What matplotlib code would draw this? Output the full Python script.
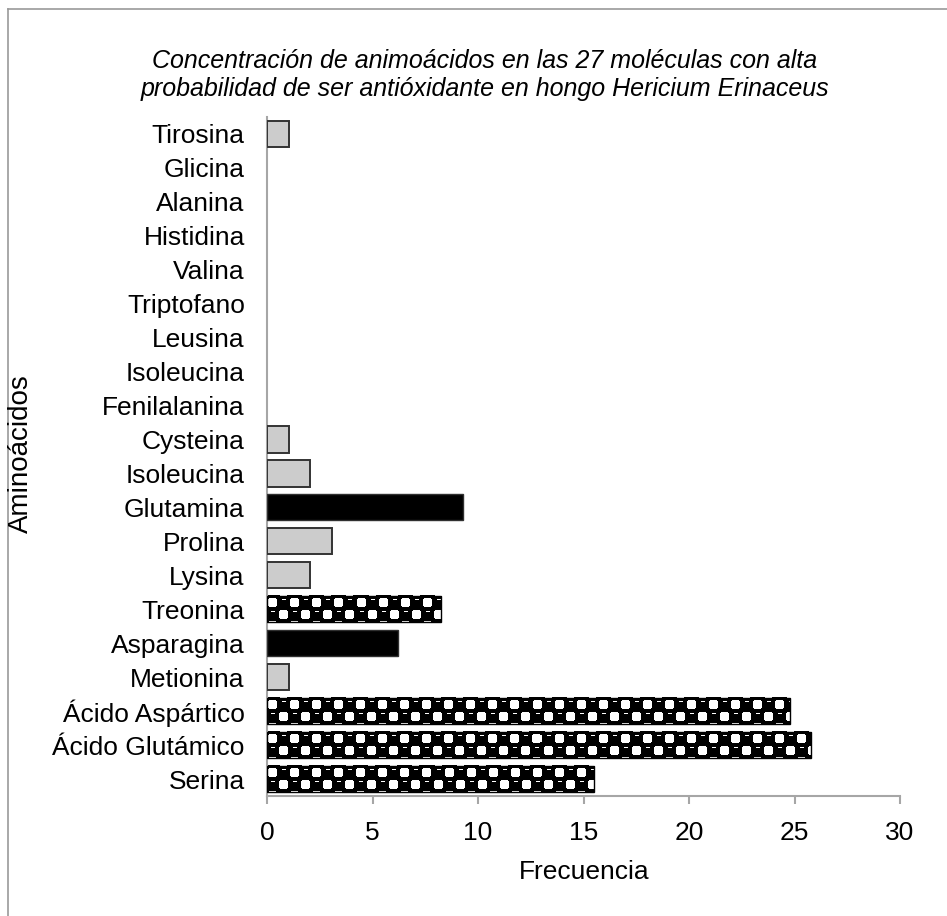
import numpy as np
import matplotlib
matplotlib.use("Agg")
import matplotlib.pyplot as plt
from matplotlib.lines import Line2D

plt.rcParams["font.family"] = ["Liberation Sans", "DejaVu Sans"]

# bottom to top, as barh draws them
categories = ["Serina", "Ácido Glutámico", "Ácido Aspártico", "Metionina",
              "Asparagina", "Treonina", "Lysina", "Prolina", "Glutamina",
              "Isoleucina", "Cysteina", "Fenilalanina", "Isoleucina",
              "Leusina", "Triptofano", "Valina", "Histidina", "Alanina",
              "Glicina", "Tirosina"]
frecuencia = [15.5, 25.8, 24.8, 1.05, 6.2, 8.25, 2.05, 3.1, 9.3, 2.05,
              1.05, 0, 0, 0, 0, 0, 0, 0, 0, 1.05]
relleno = ["patron", "patron", "patron", "gris", "negro", "patron", "gris",
           "gris", "negro", "gris", "gris", "gris", "gris", "gris", "gris",
           "gris", "gris", "gris", "gris", "gris"]

W, H = 947, 916
BAR_H = 0.77


def sphere_pattern(w, h):
    # black balls on a checkerboard, with a light dash on every ball,
    # similar to the Excel "sphere" fill
    cell = 11
    y0 = -9  # shift so a thin partial row shows at top and bottom
    yy, xx = np.mgrid[0:h, 0:w]
    img = np.zeros((h, w))
    for row in range(-1, h // cell + 2):
        top = y0 + row * cell
        for col in range(-1, w // cell + 2):
            left = col * cell
            if (col + row) % 2:
                # white cell, corners eaten by the neighbouring balls
                cx, cy = left + 5, top + 5
                sq = (abs(xx - cx) <= 4) & (abs(yy - cy) <= 4)
                corner = (abs(xx - cx) + abs(yy - cy)) >= 8
                img[sq & ~corner] = 1.0
            else:
                # ball highlight
                r = top + 2
                c0, c1 = max(left + 4, 0), min(left + 8, w)
                if 0 <= r < h and c0 < c1:
                    img[r, c0:c1] = 1.0
    return img


fig = plt.figure(figsize=(W / 100, H / 100), dpi=100)
ax = fig.add_axes([267 / W, 1 - 796 / H, (900 - 267) / W, (796 - 117) / H])

pos = np.arange(len(categories))
px_per_unit = (900 - 267) / 30.0
bar_px = BAR_H * (796 - 117) / len(categories)

for y, v, r in zip(pos, frecuencia, relleno):
    if v <= 0:
        continue
    if r == "gris":
        ax.barh(y, v, height=BAR_H, color="#cccccc", edgecolor="#333333",
                linewidth=1.4, zorder=3)
    elif r == "negro":
        ax.barh(y, v, height=BAR_H, color="black", edgecolor="#303030",
                linewidth=1.0, zorder=3)
    else:
        tex = sphere_pattern(int(round(v * px_per_unit)), int(round(bar_px)))
        ax.imshow(tex, cmap="gray", vmin=0, vmax=1, interpolation="nearest",
                  extent=(0, v, y - BAR_H / 2, y + BAR_H / 2), aspect="auto",
                  zorder=2)
        ax.barh(y, v, height=BAR_H, color="none", edgecolor="black",
                linewidth=1.0, zorder=3)

ax.set_xlim(0, 30)
ax.set_ylim(-0.5, len(categories) - 0.5)

ax.set_yticks(pos)
ax.set_yticklabels(categories, fontsize=19)
ax.set_xticks(range(0, 31, 5))
ax.tick_params(axis="x", labelsize=19, length=6, width=1.5, color="#a6a6a6",
               pad=12, direction="out")
ax.tick_params(axis="y", length=0, pad=16)

for side in ["top", "right"]:
    ax.spines[side].set_visible(False)
for side in ["left", "bottom"]:
    ax.spines[side].set_color("#a6a6a6")
    ax.spines[side].set_linewidth(1.5)

fig.text(485 / W, 1 - 75 / H,
         "Concentración de animoácidos en las 27 moléculas con alta\n"
         "probabilidad de ser antióxidante en hongo Hericium Erinaceus",
         ha="center", va="center", fontsize=18, style="italic",
         linespacing=1.24)
fig.text(584 / W, 1 - 872 / H, "Frecuencia", ha="center", va="center",
         fontsize=19)
fig.text(21 / W, 1 - 454 / H, "Aminoácidos", ha="center", va="center",
         rotation=90, fontsize=20)

# chart frame (top and left edges)
fig.add_artist(Line2D([8 / W, 1], [1 - 9 / H, 1 - 9 / H], color="#999999",
                      linewidth=1.2))
fig.add_artist(Line2D([8 / W, 8 / W], [0, 1 - 9 / H], color="#999999",
                      linewidth=1.2))

fig.savefig("out.png", dpi=100)
